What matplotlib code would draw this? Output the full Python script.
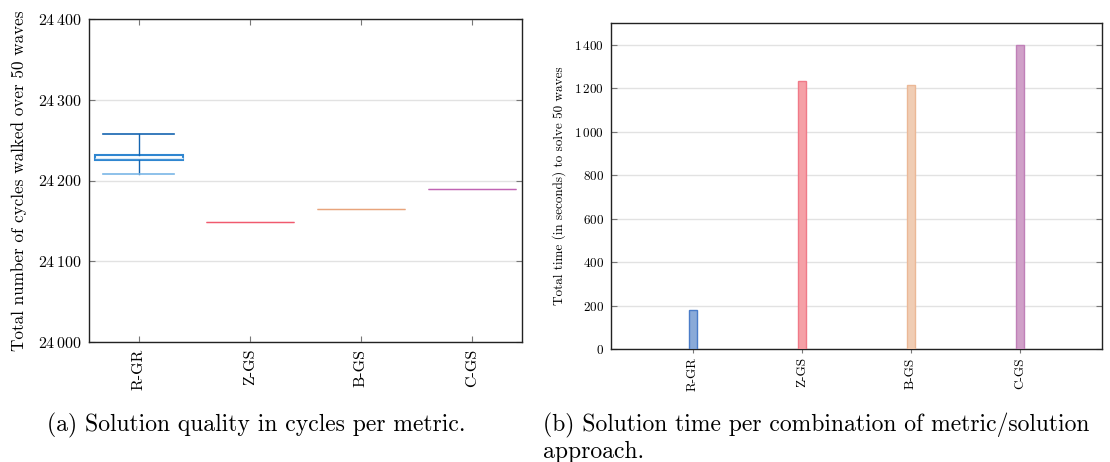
import matplotlib
matplotlib.use("Agg")
import matplotlib.pyplot as plt

plt.rcParams['font.family'] = ['cmr10', 'DejaVu Serif']
plt.rcParams['mathtext.fontset'] = 'cm'
plt.rcParams['axes.unicode_minus'] = False

# ---------------- data ----------------
categories = ["R-GR", "Z-GS", "B-GS", "C-GS"]
# box statistics (cycles over 50 waves)
box_q1 = [24225, 24148, 24165, 24189]
box_med = [24228, 24148, 24165, 24189]
box_q3 = [24231, 24148, 24165, 24189]
whisk_lo = [24208, 24148, 24165, 24189]
whisk_hi = [24258, 24148, 24165, 24189]
left_yticks = [24000, 24100, 24200, 24300, 24400]
left_yticklabels = [r"$24\,000$", r"$24\,100$", r"$24\,200$", r"$24\,300$", r"$24\,400$"]

times = [180, 1233, 1216, 1400]
right_yticks = [0, 200, 400, 600, 800, 1000, 1200, 1400]
right_yticklabels = [r"$0$", r"$200$", r"$400$", r"$600$", r"$800$", r"$1\,000$", r"$1\,200$", r"$1\,400$"]

box_colors = ["#2f86d0", "#f05a6e", "#e8a47c", "#c064b4"]
bar_face = ["#8aaad8", "#f5a0a6", "#f0cdb4", "#d0a0c8"]
bar_edge = ["#4a7cc8", "#f07a88", "#ebb896", "#c080b8"]

W, H = 1110, 462
fig = plt.figure(figsize=(W / 100, H / 100), dpi=100)

def px_axes(l, t, r, b):
    return fig.add_axes([l / W, (H - b) / H, (r - l) / W, (b - t) / H])

# ---------------- left: box plot ----------------
ax1 = px_axes(89, 19, 522, 342)
stats = []
for i, c in enumerate(categories):
    stats.append(dict(label=c, med=box_med[i], q1=box_q1[i], q3=box_q3[i],
                      whislo=whisk_lo[i], whishi=whisk_hi[i], fliers=[]))
pos = [1, 2, 3, 4]
bp = ax1.bxp(stats, positions=pos, widths=0.8, capwidths=0.64,
             showfliers=False, patch_artist=True)
for i in range(4):
    col = box_colors[i]
    bp['boxes'][i].set_facecolor('white')
    bp['boxes'][i].set_edgecolor(col)
    bp['boxes'][i].set_linewidth(1.5 if i == 0 else 0.9)
    bp['medians'][i].set_color(col if i else '#d8eaf8')
    bp['medians'][i].set_linewidth(0.9)
    for w in bp['whiskers'][2 * i:2 * i + 2]:
        w.set_color('#1565b0')
        w.set_linewidth(1.0)
    capc = ['#7ab6e6', '#1565b0']
    for k, cp in enumerate(bp['caps'][2 * i:2 * i + 2]):
        if i == 0:
            cp.set_color(capc[k])
            cp.set_linewidth(1.2)
        else:
            cp.set_visible(False)
ax1.set_xlim(0.55, 4.45)
ax1.set_ylim(24000, 24400)
ax1.set_yticks(left_yticks)
ax1.set_yticklabels(left_yticklabels, fontsize=11.5)
ax1.set_xticks(pos)
ax1.set_xticklabels(categories, rotation=90, fontsize=11.5)
ax1.grid(axis='y', color='#e2e2e2', linewidth=1.0)
ax1.set_axisbelow(True)
ax1.tick_params(axis='both', direction='in', length=4, color='#777777',
                top=True, right=True, pad=5)
for s in ax1.spines.values():
    s.set_color('#222222')
    s.set_linewidth(1.0)
ax1.set_ylabel("Total number of cycles walked over 50 waves", fontsize=12.3, labelpad=8)

# ---------------- right: bar chart ----------------
ax2 = px_axes(611, 23, 1102, 349)
xpos = range(len(categories))
for i in xpos:
    ax2.bar(i, times[i], width=0.08, color=bar_face[i], edgecolor=bar_edge[i], linewidth=1.0,
            zorder=3)
ax2.set_xlim(-0.752, 3.752)
ax2.set_ylim(0, 1500)
ax2.set_yticks(right_yticks)
ax2.set_yticklabels(right_yticklabels, fontsize=9.5)
ax2.set_xticks(list(xpos))
ax2.set_xticklabels(categories, rotation=90, fontsize=9.5)
ax2.grid(axis='y', color='#e2e2e2', linewidth=1.0)
ax2.set_axisbelow(True)
ax2.tick_params(axis='y', direction='in', length=4, color='#777777', right=True, pad=5)
ax2.tick_params(axis='x', direction='out', length=3, color='#777777', pad=3)
for s in ax2.spines.values():
    s.set_color('#222222')
    s.set_linewidth(1.0)
ax2.set_ylabel("Total time (in seconds) to solve 50 waves", fontsize=9.5, labelpad=6)

# ---------------- captions ----------------
fig.text(47 / W, 1 - 425 / H, "(a) Solution quality in cycles per metric.", fontsize=17,
         va='center', ha='left')
fig.text(543 / W, 1 - 425 / H, "(b) Solution time per combination of metric/solution", fontsize=17,
         va='center', ha='left')
fig.text(543 / W, 1 - 452 / H, "approach.", fontsize=17, va='center', ha='left')

fig.savefig("out.png", dpi=100)
